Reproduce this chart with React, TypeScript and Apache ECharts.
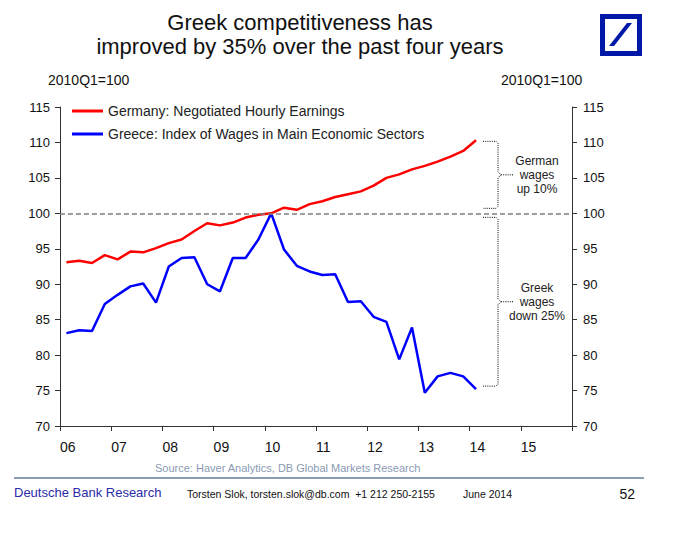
import { useEffect, useRef } from 'react';
import * as echarts from 'echarts';

const FONT = '"Liberation Sans", Arial, Helvetica, sans-serif';

// x axis: quarters counted from 2006Q1; one labelled tick per year
const yearTickLabels = ['06', '07', '08', '09', '10', '11', '12', '13', '14', '15'];
const quarterLabels = [
  '2006Q1', '2006Q2', '2006Q3', '2006Q4', '2007Q1', '2007Q2', '2007Q3', '2007Q4',
  '2008Q1', '2008Q2', '2008Q3', '2008Q4', '2009Q1', '2009Q2', '2009Q3', '2009Q4',
  '2010Q1', '2010Q2', '2010Q3', '2010Q4', '2011Q1', '2011Q2', '2011Q3', '2011Q4',
  '2012Q1', '2012Q2', '2012Q3', '2012Q4', '2013Q1', '2013Q2', '2013Q3', '2013Q4',
  '2014Q1',
];
const germanyEarnings = [
  93.1, 93.3, 93.0, 94.1, 93.5, 94.6, 94.5, 95.1, 95.8, 96.3, 97.5, 98.6, 98.3, 98.7, 99.4, 99.8,
  100.0, 100.8, 100.5, 101.3, 101.7, 102.3, 102.7, 103.1, 103.9, 105.0, 105.5, 106.2, 106.7, 107.3,
  108.0, 108.8, 110.3,
];
const greeceWages = [
  83.1, 83.5, 83.4, 87.2, 88.5, 89.7, 90.1, 87.4, 92.5, 93.7, 93.8, 90.0, 89.0, 93.7, 93.7, 96.3,
  100.0, 94.9, 92.6, 91.8, 91.3, 91.4, 87.5, 87.6, 85.4, 84.7, 79.4, 83.9, 74.7, 77.0, 77.5, 77.0,
  75.2,
];
const germanyName = 'Germany: Negotiated Hourly Earnings';
const greeceName = 'Greece: Index of Wages in Main Economic Sectors';
const baseValue = 100;

const toPoints = (vals: number[]) => vals.map((v, i) => [i + 0.5, v]);

export default function App() {
  const ref = useRef<HTMLDivElement>(null);
  useEffect(() => {
    if (!ref.current) return;
    const chart = echarts.init(ref.current, null, { renderer: 'svg' });
    const axisLine = { show: true, lineStyle: { color: '#333', width: 1 } };
    const yAxisCommon = {
      type: 'value',
      min: 70,
      max: 115,
      interval: 5,
      axisLine,
      axisTick: { show: true, length: 5, inside: false, lineStyle: { color: '#333' } },
      splitLine: { show: false },
    };
    chart.setOption({
      animation: false,
      backgroundColor: '#fff',
      grid: { left: 60, right: 106, top: 107, bottom: 108 },
      legend: {
        data: [germanyName, greeceName],
        orient: 'vertical',
        left: 72,
        top: 103,
        padding: 0,
        icon: 'rect',
        itemWidth: 31,
        itemHeight: 3,
        itemGap: 7,
        textStyle: { fontSize: 14, color: '#222', fontFamily: FONT, lineHeight: 16 },
      },
      xAxis: {
        type: 'value',
        min: 0,
        max: 40,
        interval: 4,
        axisLine,
        axisTick: { show: true, length: 5, lineStyle: { color: '#333' } },
        splitLine: { show: false },
        axisLabel: {
          fontSize: 14,
          color: '#111',
          fontFamily: FONT,
          margin: 14,
          align: 'left',
          formatter: (_v: number, idx: number) => yearTickLabels[idx] ?? '',
        },
      },
      yAxis: [
        {
          ...yAxisCommon,
          position: 'left',
          axisLabel: { fontSize: 13, color: '#111', fontFamily: FONT, margin: 10 },
        },
        {
          ...yAxisCommon,
          position: 'right',
          axisLabel: { fontSize: 13, color: '#111', fontFamily: FONT, margin: 11 },
        },
      ],
      series: [
        {
          name: germanyName,
          type: 'line',
          data: toPoints(germanyEarnings),
          symbol: 'none',
          color: '#ff0000',
          lineStyle: { width: 2.5, color: '#ff0000' },
          markLine: {
            silent: true,
            symbol: ['none', 'none'],
            label: { show: false },
            lineStyle: { type: [5, 3], color: '#808080', width: 1.5 },
            data: [{ yAxis: baseValue }],
          },
          z: 3,
        },
        {
          name: greeceName,
          type: 'line',
          data: toPoints(greeceWages),
          symbol: 'none',
          color: '#0000ff',
          lineStyle: { width: 2.5, color: '#0000ff' },
          z: 2,
        },
      ],
    });

    const px = (x: number, y: number) =>
      chart.convertToPixel({ xAxisIndex: 0, yAxisIndex: 0 }, [x, y]) as number[];
    const lastX = quarterLabels.length - 0.5;
    const gerEnd = px(lastX, germanyEarnings[germanyEarnings.length - 1]);
    const grEnd = px(lastX, greeceWages[greeceWages.length - 1]);
    const base = px(lastX, baseValue);
    const x0 = gerEnd[0] + 7;
    const x1 = gerEnd[0] + 22;
    const dotted = { stroke: '#000', lineWidth: 1, lineDash: [1, 1.2], fill: null };
    const brace = (yTop: number, yBot: number, text: string) => {
      const mid = (yTop + yBot) / 2;
      return [
        {
          type: 'polyline',
          shape: {
            points: [
              [x0, yTop], [x1 - 2, yTop], [x1, yTop + 2], [x1, mid - 3], [x1 + 3, mid],
              [x1, mid + 3], [x1, yBot - 2], [x1 - 2, yBot], [x0, yBot],
            ],
          },
          style: dotted,
        },
        { type: 'line', shape: { x1: x1 + 3, y1: mid, x2: x1 + 16, y2: mid }, style: dotted },
        {
          type: 'text',
          x: x1 + 39,
          y: mid,
          style: {
            text,
            fontSize: 12,
            lineHeight: 14,
            fontFamily: FONT,
            fill: '#222',
            textAlign: 'center',
            textVerticalAlign: 'middle',
          },
        },
      ];
    };

    chart.setOption({
      graphic: [
        {
          type: 'text',
          x: 300,
          y: 10,
          style: {
            text: 'Greek competitiveness has\nimproved by 35% over the past four years',
            fontSize: 22,
            lineHeight: 24,
            fontFamily: FONT,
            fill: '#111',
            textAlign: 'center',
          },
        },
        { type: 'rect', shape: { x: 600, y: 14, width: 42, height: 42 }, style: { fill: '#0018a8' } },
        { type: 'rect', shape: { x: 605, y: 19, width: 32, height: 32 }, style: { fill: '#fff' } },
        {
          type: 'polygon',
          shape: { points: [[609, 46], [614, 46], [632, 23], [627, 23]] },
          style: { fill: '#0018a8' },
        },
        {
          type: 'text', x: 48, y: 80,
          style: { text: '2010Q1=100', fontSize: 14, fontFamily: FONT, fill: '#111', textVerticalAlign: 'middle' },
        },
        {
          type: 'text', x: 501, y: 80,
          style: { text: '2010Q1=100', fontSize: 14, fontFamily: FONT, fill: '#111', textVerticalAlign: 'middle' },
        },
        ...brace(gerEnd[1] + 1, base[1] - 5, 'German\nwages\nup 10%'),
        ...brace(base[1] + 4, grEnd[1] - 3, 'Greek\nwages\ndown 25%'),
        {
          type: 'text', x: 155, y: 468,
          style: {
            text: 'Source: Haver Analytics, DB Global Markets Research',
            fontSize: 11, fontFamily: FONT, fill: '#8a9ab3', textVerticalAlign: 'middle',
          },
        },
        { type: 'line', shape: { x1: 14, y1: 478, x2: 644, y2: 478 }, style: { stroke: '#8c9db3', lineWidth: 2 } },
        {
          type: 'text', x: 14, y: 492,
          style: { text: 'Deutsche Bank Research', fontSize: 13, fontFamily: FONT, fill: '#2b2ba8', textVerticalAlign: 'middle' },
        },
        {
          type: 'text', x: 187, y: 494,
          style: {
            text: 'Torsten Slok, torsten.slok@db.com  +1 212 250-2155',
            fontSize: 10.5, fontFamily: FONT, fill: '#111', textVerticalAlign: 'middle',
          },
        },
        {
          type: 'text', x: 463, y: 494,
          style: { text: 'June 2014', fontSize: 10.5, fontFamily: FONT, fill: '#111', textVerticalAlign: 'middle' },
        },
        {
          type: 'text', x: 635, y: 494,
          style: { text: '52', fontSize: 14, fontFamily: FONT, fill: '#111', textAlign: 'right', textVerticalAlign: 'middle' },
        },
      ],
    });
    return () => chart.dispose();
  }, []);
  return (
    <div
      ref={ref}
      style={{ position: 'fixed', left: 0, top: 0, width: 678, height: 534, background: '#fff' }}
    />
  );
}
